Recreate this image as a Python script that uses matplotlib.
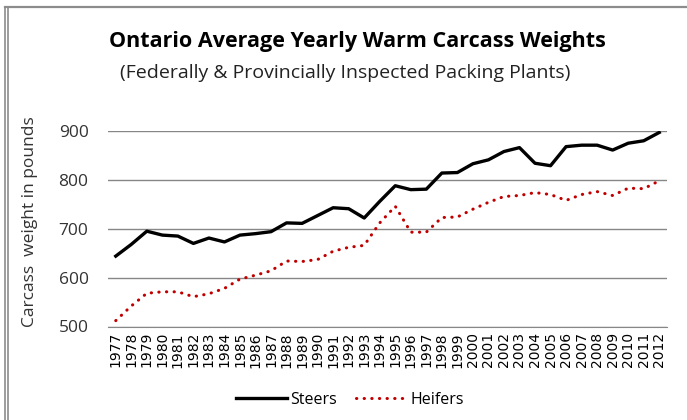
import numpy as np
import matplotlib.pyplot as plt
from matplotlib.lines import Line2D

years = list(range(1977, 2013))
steers = [644, 668, 695, 687, 685, 670, 681, 673, 687, 690, 694, 712,
          711, 727, 743, 741, 722, 756, 788, 780, 781, 814, 815, 833,
          841, 858, 866, 834, 829, 868, 871, 871, 861, 875, 880, 897]
heifers = [512, 542, 568, 571, 571, 561, 567, 578, 597, 605, 614, 634,
           633, 637, 654, 662, 666, 712, 746, 693, 693, 723, 724, 740,
           754, 766, 768, 774, 770, 758, 770, 776, 768, 783, 782, 798]

W, H = 687, 420
fig = plt.figure(figsize=(W / 100, H / 100), dpi=100)
ax = fig.add_axes([108 / W, 1 - 326.5 / H, (667 - 108) / W, (326.5 - 131) / H])

x = np.arange(len(years))
ax.plot(x, steers, color='black', lw=2.4, solid_joinstyle='round', label='Steers')
ax.plot(x, heifers, color='#C00000', lw=2.2, linestyle=(0, (0.1, 2.4)),
        dash_capstyle='round', label='Heifers')

ax.set_xlim(-0.5, len(years) - 0.5)
ax.set_ylim(500, 900)
ax.set_yticks([500, 600, 700, 800, 900])
ax.yaxis.grid(True, color='#878787', lw=1)
ax.set_axisbelow(True)
for s in ['top', 'right', 'left']:
    ax.spines[s].set_visible(False)
ax.spines['bottom'].set_color('#878787')
ax.tick_params(axis='y', length=0, pad=14, labelsize=12.5)
ax.tick_params(axis='x', length=0, pad=4)
ax.set_xticks(x)
ax.set_xticklabels([str(y) for y in years], rotation=90, fontsize=10,
                   family='DejaVu Sans')
for t in ax.get_yticklabels():
    t.set_family('Open Sans')
    t.set_color('#333333')

fig.text(30 / W, 1 - 222 / H, 'Carcass  weight in pounds', rotation=90,
         ha='center', va='center', fontsize=12.5, family='Open Sans', color='#333333')
fig.text(357 / W, 1 - 42 / H, 'Ontario Average Yearly Warm Carcass Weights',
         ha='center', va='center', fontsize=15.5, fontweight='bold', family='Open Sans')
fig.text(345 / W, 1 - 73 / H, '(Federally & Provincially Inspected Packing Plants)',
         ha='center', va='center', fontsize=14, family='Open Sans', color='#222222')

leg = fig.legend(loc='center', bbox_to_anchor=(350 / W, 1 - 400 / H), ncol=2,
                 frameon=False, handlelength=3.2, handletextpad=0.2,
                 columnspacing=1.2, prop={'family': 'Open Sans', 'size': 11.5})

# gray frame around the chart area
fig.add_artist(Line2D([5 / W, 1], [1 - 6.5 / H, 1 - 6.5 / H], color='#8c8c8c', lw=1.6))
fig.add_artist(Line2D([5 / W, 5 / W], [0, 1 - 6.5 / H], color='#8c8c8c', lw=1.2))
fig.add_artist(Line2D([8 / W, 8 / W], [0, 1 - 6.5 / H], color='#8c8c8c', lw=1.2))

fig.savefig('out.png', dpi=100)
